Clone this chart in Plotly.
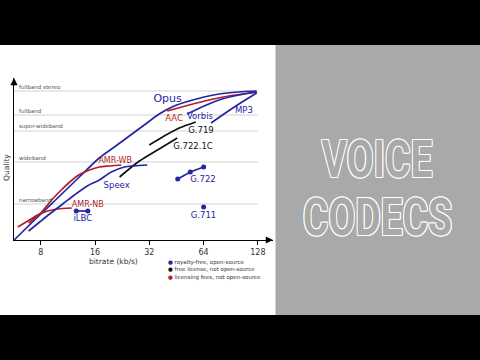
import math
import plotly.graph_objects as go

BLUE = "#2424a6"
RED = "#b21f26"
BLACK = "#111111"

# quality levels (y) and their names
levels = ["narrowband", "wideband", "super-wideband", "fullband", "fullband stereo"]
level_q = [36, 78, 109, 125, 149]

# bitrate ticks (kb/s)
x_ticks = [8, 16, 32, 64, 128]

# curves: bitrate (kb/s) vs quality
opus_kbps = [5.7, 7.9, 10.2, 13.1, 16.9, 20.5, 24.8, 30.0, 36.3, 44.0, 53.2, 64.4, 78, 100, 126]
opus_q = [0, 25, 44, 63, 82, 93, 104, 115, 126, 134, 139, 143, 146, 148, 149]

aac_kbps = [40.2, 53.2, 68.6, 88.5, 126]
aac_q = [129, 135, 140, 144, 148]

vorbis_kbps = [51.9, 64.4, 77.9, 100.5, 126]
vorbis_q = [126, 134, 140, 145, 148]

mp3_kbps = [70.4, 83, 100.5, 126]
mp3_q = [117, 126, 136, 147]

g719_kbps = [32, 38.7, 46.9, 58]
g719_q = [95, 104, 112, 118]

g7221c_kbps = [21.9, 28.2, 36.3, 45.7]
g7221c_q = [63, 79, 91, 102]

amrwb_kbps = [6.86, 7.5, 8.1, 9.2, 10.4, 11.6, 13.0, 14.9, 16.9, 19.2, 22.4]
amrwb_q = [17, 23, 28, 40, 50, 58, 65, 70, 73, 74, 75]

amrnb_kbps = [5.97, 6.78, 7.7, 8.74, 9.93, 11.9]
amrnb_q = [13, 19, 25, 29, 31, 32]

speex_kbps = [6.86, 7.9, 8.97, 10.6, 12.3, 14.5, 16.9, 19.7, 23.3, 26.4, 31.2]
speex_q = [9, 18, 26, 36, 45, 54, 60, 68, 73, 74, 75]

ilbc_kbps = [12.6, 14.6]
ilbc_q = [29, 29]

g722_kbps = [46, 54, 64]
g722_q = [61, 68, 73]

g711_kbps = [64]
g711_q = [33]

# codec labels: text, bitrate, quality, colour, size
labels = [
    ("Opus", 40.4, 141, BLUE, 11),
    ("AAC", 43.9, 121.5, RED, 8.5),
    ("Vorbis", 61.1, 123.5, BLUE, 8.5),
    ("MP3", 107, 129.5, BLUE, 8.5),
    ("G.719", 61.9, 109.5, BLACK, 8.5),
    ("G.722.1C", 55.9, 93.5, BLACK, 8.5),
    ("AMR-WB", 20.7, 79.5, RED, 8),
    ("Speex", 21.1, 54.5, BLUE, 8.5),
    ("AMR-NB", 14.6, 35.5, RED, 8),
    ("iLBC", 13.7, 21, BLUE, 8.5),
    ("G.722", 63.5, 60, BLUE, 8.5),
    ("G.711", 63.9, 24.5, BLUE, 8.5),
]

legend_items = [
    (BLUE, "royalty-free, open-source"),
    (BLACK, "free license, not open-source"),
    (RED, "licensing fees, not open-source"),
]

W, H = 480, 360
X_MIN, X_MAX = 5.69, 155.2
Q_MAX = 162

fig = go.Figure()

# grid lines for each quality level
for q in level_q:
    fig.add_trace(go.Scatter(x=[X_MIN, 128], y=[q, q], mode="lines",
                             line=dict(color="#d2d2d2", width=1),
                             hoverinfo="skip", showlegend=False))

curves = [
    (opus_kbps, opus_q, BLUE),
    (aac_kbps, aac_q, RED),
    (vorbis_kbps, vorbis_q, BLUE),
    (mp3_kbps, mp3_q, BLUE),
    (g719_kbps, g719_q, BLACK),
    (g7221c_kbps, g7221c_q, BLACK),
    (amrwb_kbps, amrwb_q, RED),
    (amrnb_kbps, amrnb_q, RED),
    (speex_kbps, speex_q, BLUE),
]
for xs, ys, c in curves:
    fig.add_trace(go.Scatter(x=xs, y=ys, mode="lines",
                             line=dict(color=c, width=1.7, shape="spline", smoothing=0.8),
                             hoverinfo="skip", showlegend=False))

for xs, ys in [(ilbc_kbps, ilbc_q), (g722_kbps, g722_q), (g711_kbps, g711_q)]:
    fig.add_trace(go.Scatter(x=xs, y=ys, mode="lines+markers",
                             line=dict(color=BLUE, width=1.7),
                             marker=dict(color=BLUE, size=5),
                             hoverinfo="skip", showlegend=False))

for txt, bx, qy, c, s in labels:
    fig.add_trace(go.Scatter(x=[bx], y=[qy], mode="text", text=[txt],
                             textposition="middle center",
                             textfont=dict(family="DejaVu Sans", size=s, color=c),
                             hoverinfo="skip", showlegend=False))

shapes = [
    dict(type="rect", xref="paper", yref="paper", x0=275.5 / W, x1=1, y0=0, y1=1,
         fillcolor="#a9a9a9", line=dict(width=0), layer="below"),
    dict(type="rect", xref="paper", yref="paper", x0=0, x1=1, y0=1 - 45 / H, y1=1,
         fillcolor="#000000", line=dict(width=0), layer="below"),
    dict(type="rect", xref="paper", yref="paper", x0=0, x1=1, y0=0, y1=45 / H,
         fillcolor="#000000", line=dict(width=0), layer="below"),
]

annotations = [
    # axis arrows
    dict(xref="x domain", yref="y domain", x=0, y=1, ax=0, ay=9, text="",
         showarrow=True, arrowhead=2, arrowsize=1.2, arrowwidth=1.2, arrowcolor="black"),
    dict(xref="x domain", yref="y domain", x=1, y=0, ax=-9, ay=0, text="",
         showarrow=True, arrowhead=2, arrowsize=1.2, arrowwidth=1.2, arrowcolor="black"),
    dict(xref="paper", yref="paper", x=6 / W, y=1 - 168 / H, text="Quality",
         textangle=-90, showarrow=False, xanchor="center", yanchor="middle",
         font=dict(family="DejaVu Sans", size=7.5, color="#333")),
    dict(xref="paper", yref="paper", x=113 / W, y=1 - 261 / H, text="bitrate (kb/s)",
         showarrow=False, xanchor="center", yanchor="middle",
         font=dict(family="DejaVu Sans", size=7.5, color="#333")),
]
# quality level names, just above their grid lines
for name, q in zip(levels, level_q):
    annotations.append(dict(
        xref="paper", yref="y", x=16.5 / W, y=q, text=name, showarrow=False,
        xanchor="left", yanchor="bottom", yshift=-1,
        font=dict(family="DejaVu Sans", size=5.5, color="#555")))

for i, (c, t) in enumerate(legend_items):
    annotations.append(dict(
        xref="paper", yref="paper", x=166 / W, y=1 - (262.3 + 7.5 * i) / H,
        xanchor="left", yanchor="middle", showarrow=False,
        text=f'<span style="color:{c}">●</span> {t}',
        font=dict(family="DejaVu Sans", size=5.5, color="#333")))

outline = ", ".join(f"{dx}px {dy}px 0 #ffffff" for dx, dy in
                    [(1, 0), (-1, 0), (0, 1), (0, -1), (1, 1), (-1, -1), (1, -1), (-1, 1)])
for word, yc in [("VOICE", 159), ("CODECS", 217)]:
    annotations.append(dict(
        xref="paper", yref="paper", x=377 / W, y=1 - yc / H, showarrow=False,
        text=word, xanchor="center", yanchor="middle",
        font=dict(family="Roboto", size=52, color="#a9a9a9", weight="bold", shadow=outline)))

fig.update_layout(
    width=W, height=H, autosize=False,
    margin=dict(l=0, r=0, t=0, b=0),
    paper_bgcolor="white", plot_bgcolor="rgba(0,0,0,0)",
    shapes=shapes, annotations=annotations, showlegend=False,
    xaxis=dict(domain=[14 / W, 273 / W], type="log",
               range=[math.log10(X_MIN), math.log10(X_MAX)],
               tickvals=x_ticks, ticktext=[str(v) for v in x_ticks],
               ticks="outside", ticklen=4, tickcolor="black",
               showline=True, linecolor="black", linewidth=1.2,
               showgrid=False, zeroline=False,
               tickfont=dict(family="DejaVu Sans", size=8, color="#333")),
    yaxis=dict(domain=[1 - 240 / H, 1 - 78 / H], range=[0, Q_MAX],
               showticklabels=False, ticks="",
               showline=True, linecolor="black", linewidth=1.2,
               showgrid=False, zeroline=False),
)

post_js = """
document.body.style.margin = '0';
document.body.style.padding = '0';
document.body.style.overflow = 'hidden';
document.querySelectorAll('.annotation-text').forEach(function (t) {
  if (t.textContent === 'VOICE' || t.textContent === 'CODECS') {
    t.style.transformBox = 'fill-box';
    t.style.transformOrigin = 'center';
    t.style.transform = 'scaleX(0.75)';
  }
});
"""

fig.write_html("out.html", post_script=post_js,
               config={"displayModeBar": False, "staticPlot": True})
